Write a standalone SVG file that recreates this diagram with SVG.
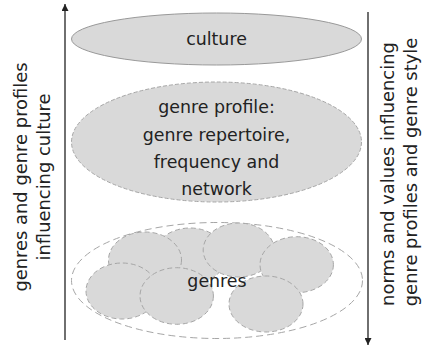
<svg xmlns="http://www.w3.org/2000/svg" width="424" height="347" viewBox="0 0 424 347">
<style>
text{font-family:"DejaVu Sans","Liberation Sans",sans-serif;font-size:17.4px;fill:#222;text-anchor:middle}
.side{font-size:17.9px}
.blob{fill:#d9d9d9;stroke:#a6a6a6;stroke-width:1;stroke-dasharray:5 3}
.arrow{stroke:#222;stroke-width:1.3;fill:none}
</style>
<defs>
<marker id="ah" viewBox="0 0 10 10" refX="10" refY="5" markerWidth="7" markerHeight="7" markerUnits="userSpaceOnUse" orient="auto">
<path d="M0,0 L10,5 L0,10 z" fill="#222"/>
</marker>
</defs>
<g id="connectors">
<line class="arrow" x1="65" y1="340" x2="65" y2="4" marker-end="url(#ah)"/>
<line class="arrow" x1="368" y1="12" x2="368" y2="345" marker-end="url(#ah)"/>
</g>
<g id="culture">
<ellipse cx="216.5" cy="39" rx="145" ry="26" fill="#d9d9d9" stroke="#999" stroke-width="1"/>
<text x="216.5" y="44.5">culture</text>
</g>
<g id="genre-profile">
<ellipse cx="216.5" cy="142" rx="145" ry="60" fill="#d9d9d9" stroke="#a6a6a6" stroke-width="1" stroke-dasharray="4 2"/>
<text x="216.5" y="113">genre profile:</text>
<text x="216.5" y="140.5">genre repertoire,</text>
<text x="216.5" y="168">frequency and</text>
<text x="216.5" y="195">network</text>
</g>
<g id="genres">
<ellipse cx="217" cy="280.5" rx="145.5" ry="58" fill="none" stroke="#a6a6a6" stroke-width="1" stroke-dasharray="7 4"/>
<ellipse class="blob" cx="190" cy="256" rx="36" ry="28"/>
<ellipse class="blob" cx="145" cy="260" rx="36.5" ry="28"/>
<ellipse class="blob" cx="238.7" cy="250" rx="35.5" ry="27"/>
<ellipse class="blob" cx="296.7" cy="264.7" rx="36.7" ry="28"/>
<ellipse class="blob" cx="122" cy="291" rx="36" ry="28"/>
<ellipse class="blob" cx="176.7" cy="296" rx="36.7" ry="28.3"/>
<ellipse class="blob" cx="266" cy="304" rx="37" ry="28"/>
<text x="217" y="286.5">genres</text>
</g>
<g id="label-left">
<text class="side" transform="translate(26.5,177) rotate(-90)">genres and genre profiles</text>
<text class="side" transform="translate(50,177) rotate(-90)">influencing culture</text>
</g>
<g id="label-right">
<text class="side" transform="translate(393.5,174) rotate(-90)">norms and values influencing</text>
<text class="side" transform="translate(417,172) rotate(-90)">genre profiles and genre style</text>
</g>
</svg>
